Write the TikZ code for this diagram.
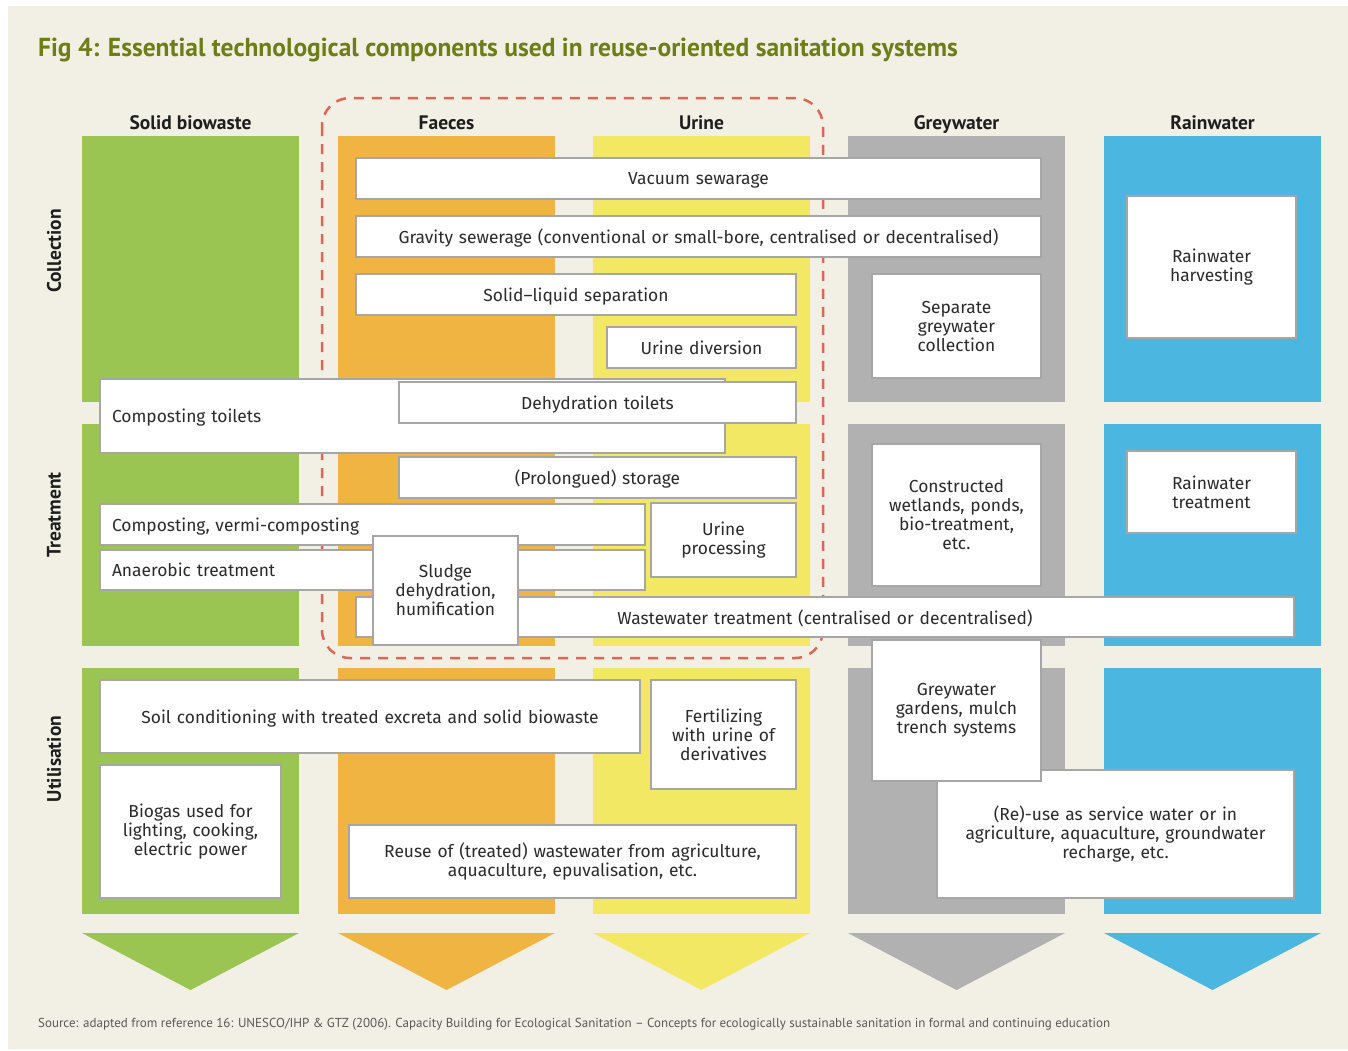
\documentclass[tikz,border=0pt]{standalone}
\usepackage{fontspec}
\setmainfont{Fira Sans}
\newfontfamily\headfont{PT Sans}
\newfontfamily\titlefont[FakeStretch=0.98]{PT Sans}
\newfontfamily\srcfont{PT Sans}

\definecolor{bgpaper}{HTML}{F2EFE5}
\definecolor{titleolive}{HTML}{6E7E17}
\definecolor{colsolid}{HTML}{9BC553}
\definecolor{colfaeces}{HTML}{F0B443}
\definecolor{colurine}{HTML}{F2E863}
\definecolor{colgrey}{HTML}{B1B1B1}
\definecolor{colrain}{HTML}{4BB7E0}
\definecolor{boxline}{HTML}{A6A6A6}
\definecolor{boxtext}{HTML}{2B2B2B}
\definecolor{headtext}{HTML}{1E1E1E}
\definecolor{dashred}{HTML}{E06552}

\tikzset{
  box/.style={draw=boxline, line width=1.2pt, fill=white, inner xsep=12pt,
    inner ysep=0pt, outer sep=0pt, text=boxtext,
    font=\fontsize{17.4}{19}\selectfont},
  mline/.style={align=center},
  sline/.style={align=center, text depth=0pt},
  lline/.style={align=left, text depth=0pt},
  colhead/.style={text=headtext, font=\headfont\bfseries\fontsize{19.5}{22}\selectfont},
  rowhead/.style={colhead, rotate=90},
}

\begin{document}
\begin{tikzpicture}[x=1pt,y=-1pt]
  \useasboundingbox (0,0) rectangle (1348,1050);
  \fill[white] (0,0) rectangle (1348,1050);
  \fill[bgpaper] (8,6) rectangle (1348,1049);

  \node[anchor=base west, inner sep=0pt, text=titleolive,
    font=\titlefont\bfseries\fontsize{26}{30}\selectfont] (title) at (38,56)
    {Fig 4: Essential technological components used in reuse-oriented sanitation systems};

  \def \Columns{
    solid/82/{Solid biowaste},
    faeces/338/Faeces,
    urine/593/Urine,
    grey/848/Greywater,
    rain/1104/Rainwater}
  \foreach \id / \x / \lb in \Columns{
    \foreach \ya / \yb in {136/402, 424/646, 668/914}{
      \fill[col\id] (\x,\ya) rectangle (\x+217,\yb);
    }
    \node[colhead, anchor=base] (hd-\id) at (\x+108.5,129) {\lb};
    \fill[col\id] (\x,933) -- (\x+217,933) -- (\x+108.5,990) -- cycle;
  }

  \foreach \lb / \y in {Collection/251, Treatment/515, Utilisation/759}{
    \node[rowhead] (row-\lb) at (54,\y) {\lb};
  }

  % faeces + urine group
  \draw[dashred, line width=2.5pt, dash pattern=on 10pt off 8pt,
    rounded corners=28pt] (322,98) rectangle (823,658);

  \def \Boxes{
    vacuum/356/158/1041/199/sline/{Vacuum sewarage},
    gravity/356/216/1041/257/sline/{Gravity sewerage (conventional or small-bore, centralised or decentralised)},
    solliq/356/274/796/315/sline/{Solid–liquid separation},
    divert/607/327/796/368/sline/{Urine diversion},
    sepgrey/872/274/1041/378/mline/{Separate\\greywater\\collection},
    harvest/1127/196/1296/338/mline/{Rainwater\\harvesting},
    comptoil/100/379/725/453/lline/{Composting toilets},
    dehydtoil/399/382/796/423/sline/{Dehydration toilets},
    storage/399/457/796/498/sline/{(Prolongued) storage},
    compost/100/504/645/545/lline/{Composting, vermi-composting},
    anaer/100/550/645/590/lline/{Anaerobic treatment},
    uproc/651/503/796/577/mline/{Urine\\processing},
    wetland/872/444/1041/586/mline/{Constructed\\wetlands, ponds,\\bio-treatment,\\etc.},
    raintreat/1127/451/1296/533/mline/{Rainwater\\treatment},
    wwtreat/356/597/1294/637/sline/{Wastewater treatment (centralised or decentralised)},
    sludge/373/536/518/645/mline/{Sludge\\dehydration,\\humification},
    soil/100/680/640/753/sline/{Soil conditioning with treated excreta and solid biowaste},
    fert/651/680/796/789/mline/{Fertilizing\\with urine of\\derivatives},
    biogas/100/765/281/898/mline/{Biogas used for\\lighting, cooking,\\electric power},
    reuse/349/825/796/898/mline/{Reuse of (treated) wastewater from agriculture,\\aquaculture, epuvalisation, etc.},
    servwater/937/770/1294/898/mline/{(Re)-use as service water or in\\agriculture, aquaculture, groundwater\\recharge, etc.},
    gardens/872/640/1041/781/mline/{Greywater\\gardens, mulch\\trench systems}}
  \foreach \id / \xa / \ya / \xb / \yb / \al / \txt in \Boxes{
    \pgfmathsetmacro\bw{\xb-\xa}
    \pgfmathsetmacro\bh{\yb-\ya}
    \pgfmathsetmacro\tw{\xb-\xa-24}
    \node[box, minimum width=\bw pt, minimum height=\bh pt, text width=\tw pt,
      \al] (\id) at ({(\xa+\xb)/2},{(\ya+\yb)/2}) {\txt};
  }

  \node[anchor=base west, inner sep=0pt, text=black!65,
    font=\srcfont\fontsize{13}{15}\selectfont] (source) at (38,1027)
    {Source: adapted from reference 16: UNESCO/IHP \& GTZ (2006). Capacity Building for Ecological Sanitation – Concepts for ecologically sustainable sanitation in formal and continuing education};
\end{tikzpicture}
\end{document}
